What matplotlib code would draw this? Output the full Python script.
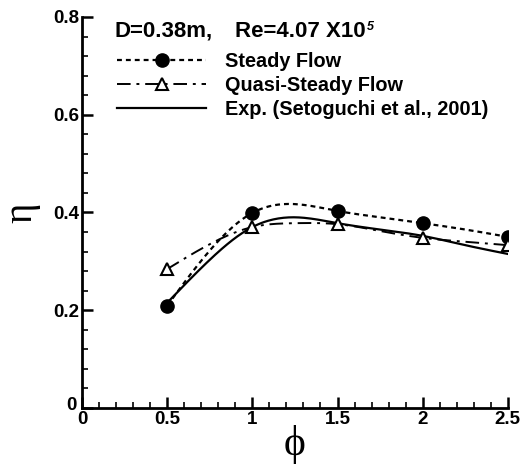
import numpy as np
import matplotlib
matplotlib.use("Agg")
import matplotlib.pyplot as plt
import matplotlib.transforms as mtransforms
from matplotlib.ticker import MultipleLocator

# Values
phi_pts = [0.5, 1.0, 1.5, 2.0, 2.5]
eta_steady = [0.209, 0.399, 0.403, 0.378, 0.350]
eta_quasi = [0.284, 0.370, 0.376, 0.348, 0.333]

# extra points on the drawn curves (between the markers)
phi_curve = [0.5, 0.75, 1.0, 1.25, 1.5, 1.75, 2.0, 2.25, 2.5]
eta_steady_curve = [0.209, 0.322, 0.399, 0.417, 0.403, 0.390, 0.378, 0.365, 0.350]
eta_quasi_curve = [0.284, 0.335, 0.370, 0.378, 0.376, 0.362, 0.348, 0.340, 0.333]
eta_exp_curve = [0.215, 0.303, 0.370, 0.390, 0.378, 0.365, 0.352, 0.333, 0.315]


def spline(x, y, n=200):
    # natural cubic spline through the read points, only for a smooth line
    x = np.asarray(x, float)
    y = np.asarray(y, float)
    m = len(x)
    h = np.diff(x)
    A = np.zeros((m, m))
    b = np.zeros(m)
    A[0, 0] = A[-1, -1] = 1
    for i in range(1, m - 1):
        A[i, i - 1] = h[i - 1]
        A[i, i] = 2 * (h[i - 1] + h[i])
        A[i, i + 1] = h[i]
        b[i] = 6 * ((y[i + 1] - y[i]) / h[i] - (y[i] - y[i - 1]) / h[i - 1])
    M = np.linalg.solve(A, b)
    xs = np.linspace(x[0], x[-1], n)
    k = np.clip(np.searchsorted(x, xs) - 1, 0, m - 2)
    t = xs - x[k]
    hk = h[k]
    a = (M[k + 1] - M[k]) / (6 * hk)
    bb = M[k] / 2
    c = (y[k + 1] - y[k]) / hk - hk * (2 * M[k] + M[k + 1]) / 6
    return xs, y[k] + c * t + bb * t ** 2 + a * t ** 3


plt.rcParams['font.family'] = ['Liberation Sans', 'DejaVu Sans']
plt.rcParams['font.weight'] = 'bold'

fig = plt.figure(figsize=(5.29, 4.71), dpi=100)
ax = fig.add_axes([0.155, 0.134, 0.805, 0.830])

dotted = (0, (2.2, 1.8))
dashdot = (0, (7, 3, 1.5, 3))

xs, ys = spline(phi_curve, eta_steady_curve)
ax.plot(xs, ys, color='k', lw=1.6, ls=dotted)
xs, ys = spline(phi_curve, eta_quasi_curve)
ax.plot(xs, ys, color='k', lw=1.4, ls=dashdot)
xs, ys = spline(phi_curve, eta_exp_curve)
ax.plot(xs, ys, color='k', lw=1.6)

ax.plot(phi_pts, eta_steady, 'o', color='k', ms=9.5, ls='none')
ax.plot(phi_pts, eta_quasi, '^', mfc='white', mec='k', mew=1.5, ms=8, ls='none')

# legend handles
h1, = ax.plot([], [], color='k', lw=1.6, ls=dotted, marker='o', ms=9.5)
h2, = ax.plot([], [], color='k', lw=1.4, ls=dashdot, marker='^', mfc='white', mew=1.5, ms=8)
h3, = ax.plot([], [], color='k', lw=1.6)
ax.legend([h1, h2, h3], ['Steady Flow', 'Quasi-Steady Flow', 'Exp. (Setoguchi et al., 2001)'],
          loc='upper left', bbox_to_anchor=(0.045, 0.95), frameon=False, numpoints=1,
          handlelength=4.5, handletextpad=0.95, labelspacing=0.25, borderpad=0.3,
          prop={'weight': 'bold', 'size': 14.3})
ax.text(0.077, 0.99, 'D=0.38m,', transform=ax.transAxes,
        fontsize=16, fontweight='bold', va='top', ha='left')
re_txt = ax.text(0.36, 0.99, 'Re=4.07 X10', transform=ax.transAxes,
                 fontsize=16, fontweight='bold', va='top', ha='left')
ax.annotate('5', xy=(1, 1), xycoords=re_txt, xytext=(1, 0), textcoords='offset points',
            fontsize=9, fontweight='bold', style='italic', va='top', ha='left')

ax.set_xlim(0, 2.5)
ax.set_ylim(0, 0.8)
ax.xaxis.set_minor_locator(MultipleLocator(0.1))
ax.yaxis.set_minor_locator(MultipleLocator(0.04))
ax.set_xticks([0, 0.5, 1, 1.5, 2, 2.5])
ax.set_xticklabels(['0', '0.5', '1', '1.5', '2', '2.5'])
ax.set_yticks([0, 0.2, 0.4, 0.6, 0.8])
ax.set_yticklabels(['0', '0.2', '0.4', '0.6', '0.8'])

for s in ['top', 'right']:
    ax.spines[s].set_visible(False)
for s in ['left', 'bottom']:
    ax.spines[s].set_linewidth(2)
ax.tick_params(which='major', direction='in', length=8, width=1.8, labelsize=13.5, pad=2)
ax.tick_params(which='minor', direction='in', length=4.5, width=1.2)
for lab in ax.get_xticklabels() + ax.get_yticklabels():
    lab.set_fontweight('bold')

# nudge the y "0" up-left so it does not run into the x "0"
ylab0 = ax.get_yticklabels()[0]
ylab0.set_transform(ylab0.get_transform() +
                    mtransforms.ScaledTranslation(-3 / 100, 4 / 100, fig.dpi_scale_trans))

ax.set_xlabel(u'\u03d5', family='Liberation Serif', fontsize=30, fontweight='normal', labelpad=-2)
ax.set_ylabel(u'\u03b7', family='Liberation Serif', fontsize=28, fontweight='normal',
              rotation=90, labelpad=9)

fig.savefig('out.png', dpi=100)
